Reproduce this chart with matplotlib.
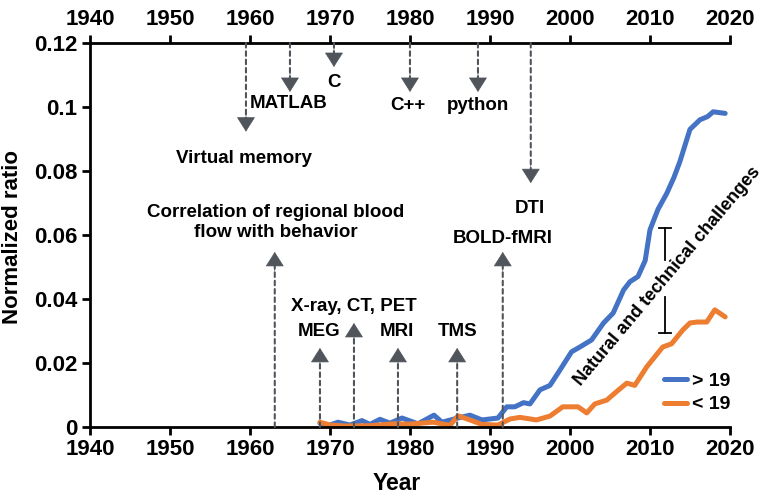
import matplotlib
matplotlib.use("Agg")
import matplotlib.pyplot as plt

plt.rcParams['font.family'] = ['Liberation Sans', 'DejaVu Sans']
plt.rcParams['font.weight'] = 'bold'

# > 19 (blue)
years_old = [1968.75, 1970, 1971, 1972.5, 1974, 1975, 1976.25, 1977.5, 1979, 1981,
             1983, 1984, 1986, 1987.5, 1989, 1991, 1992.1, 1993.1, 1994.2, 1995,
             1996.25, 1997.5, 1998.75, 2000.2, 2001.25, 2002.7, 2004.2, 2005.4,
             2006.7, 2007.5, 2008.5, 2009.4, 2010, 2011, 2012.1, 2013, 2013.75,
             2015, 2016.25, 2017.2, 2017.9, 2019.4]
ratio_old = [0.0012, 0.0006, 0.0015, 0.0006, 0.002, 0.0008, 0.0024, 0.0012, 0.0028, 0.0010,
             0.0037, 0.0015, 0.0028, 0.0037, 0.0022, 0.0028, 0.0063, 0.0063, 0.0076, 0.0072,
             0.0116, 0.013, 0.0178, 0.0235, 0.025, 0.0272, 0.0325, 0.0356,
             0.0428, 0.0454, 0.047, 0.052, 0.0616, 0.068, 0.073, 0.078, 0.083,
             0.093, 0.096, 0.097, 0.0985, 0.098]

# < 19 (orange)
years_young = [1968.75, 1970, 1972, 1975, 1978, 1980, 1982.9, 1985, 1986, 1987.5,
               1989, 1991, 1992.5, 1993.75, 1995.8, 1997.5, 1999.1, 2001, 2002.1,
               2003.1, 2004.6, 2005.8, 2007.1, 2008.1, 2009.6, 2011.6, 2012.7,
               2014.1, 2015, 2015.9, 2017.1, 2018.1, 2019.4]
ratio_young = [0.0015, 0.0006, 0.0003, 0.0004, 0.001, 0.0009, 0.0015, 0.0005, 0.0035, 0.0022,
               0.0008, 0.0006, 0.0025, 0.003, 0.0022, 0.0034, 0.0063, 0.0063, 0.0044,
               0.0072, 0.0084, 0.011, 0.0137, 0.013, 0.0188, 0.025, 0.026,
               0.0303, 0.0325, 0.0328, 0.0328, 0.0366, 0.0344]

# milestones pointing down from the top axis: (label, year, arrow tip, text x, text y)
down_events = [
    ("Virtual memory", 1959.5, 0.0923, 1959.3, 0.084),
    ("MATLAB", 1965.0, 0.1047, 1964.8, 0.1012),
    ("C", 1970.5, 0.1125, 1970.5, 0.1078),
    ("C++", 1980.0, 0.1047, 1979.7, 0.1005),
    ("python", 1988.5, 0.1047, 1988.5, 0.1005),
    ("DTI", 1995.1, 0.0762, 1995.0, 0.0684),
]
# milestones pointing up from the bottom axis
up_events = [
    ("Correlation of regional blood\nflow with behavior", 1963.1, 0.0547, 1963.2, 0.0639),
    ("MEG", 1968.75, 0.0247, 1968.6, 0.0297),
    ("X-ray, CT, PET", 1973.0, 0.0325, 1973.0, 0.0375),
    ("MRI", 1978.5, 0.0247, 1978.4, 0.0297),
    ("TMS", 1985.9, 0.0247, 1985.9, 0.0297),
    ("BOLD-fMRI", 1991.6, 0.0547, 1991.6, 0.059),
]

blue = '#4472C4'
orange = '#ED7D31'
gray = '#50555c'

fig = plt.figure(figsize=(7.65, 4.98), dpi=100)
ax = fig.add_axes([0.1176, 0.1426, 0.8366, 0.7711])

ax.plot(years_old, ratio_old, color=blue, lw=3.6, label='> 19',
        solid_capstyle='round', solid_joinstyle='round')
ax.plot(years_young, ratio_young, color=orange, lw=3.6, label='< 19',
        solid_capstyle='round', solid_joinstyle='round')

shaft = dict(arrowstyle='-', color=gray, lw=1.5, linestyle=(0, (2.2, 1.8)),
             shrinkA=0, shrinkB=0)
head = dict(arrowstyle='-|>,head_length=0.6,head_width=0.38', color=gray, lw=0.5,
            mutation_scale=16, shrinkA=0, shrinkB=0)
hl = 0.003  # shaft stops a bit short, the solid head covers the end


def milestone(label, yr, tip, tx, ty, start, sign):
    ax.annotate('', xy=(yr, tip - sign * hl), xytext=(yr, start), arrowprops=shaft,
                annotation_clip=False)
    ax.annotate('', xy=(yr, tip), xytext=(yr, tip - sign * 2 * hl), arrowprops=head,
                annotation_clip=False)
    ax.text(tx, ty, label, ha='center', va='center', fontsize=13.5, fontweight='bold',
            linespacing=1.2)


for label, yr, tip, tx, ty in down_events:
    milestone(label, yr, tip, tx, ty, 0.12, -1)
for label, yr, tip, tx, ty in up_events:
    milestone(label, yr, tip, tx, ty, 0.0, 1)

# bracket for the gap text
bx = 2011.9
ax.plot([bx, bx], [0.0622, 0.0522], color='black', lw=1.3)
ax.plot([bx, bx], [0.0406, 0.0294], color='black', lw=1.3)
ax.plot([bx - 0.75, bx + 0.75], [0.0622, 0.0622], color='black', lw=1.3)
ax.plot([bx - 0.75, bx + 0.75], [0.0294, 0.0294], color='black', lw=1.3)
ax.text(2012.2, 0.047, "Natural and technical challenges", rotation=50,
        ha='center', va='center', rotation_mode='anchor', fontsize=13, fontweight='bold')

ax.set_xlim(1940, 2020)
ax.set_ylim(0, 0.12)
ax.set_xticks(range(1940, 2021, 10))
ax.set_yticks([0, 0.02, 0.04, 0.06, 0.08, 0.1, 0.12])
ax.set_yticklabels(['0', '0.02', '0.04', '0.06', '0.08', '0.1', '0.12'])
ax.tick_params(axis='x', top=True, labeltop=True, direction='out', length=6, width=2,
               labelsize=16, pad=3)
ax.tick_params(axis='y', direction='out', length=6, width=2, labelsize=16, pad=3)
for t in ax.get_xticklabels() + ax.get_yticklabels():
    t.set_fontweight('bold')

ax.spines['right'].set_visible(False)
for s in ['left', 'bottom', 'top']:
    ax.spines[s].set_linewidth(2)

ax.set_xlabel('Year', fontsize=16.5, fontweight='bold')
ax.xaxis.set_label_coords(0.48, -0.118)
ax.set_ylabel('Normalized ratio', fontsize=16, fontweight='bold')
ax.yaxis.set_label_coords(-0.105, 0.495)

ax.legend(loc='lower right', bbox_to_anchor=(1.022, 0.0), frameon=False, fontsize=14,
          handlelength=1.2, handletextpad=0.25, labelspacing=0.3, borderpad=0.2)

fig.savefig('out.png', dpi=100)
